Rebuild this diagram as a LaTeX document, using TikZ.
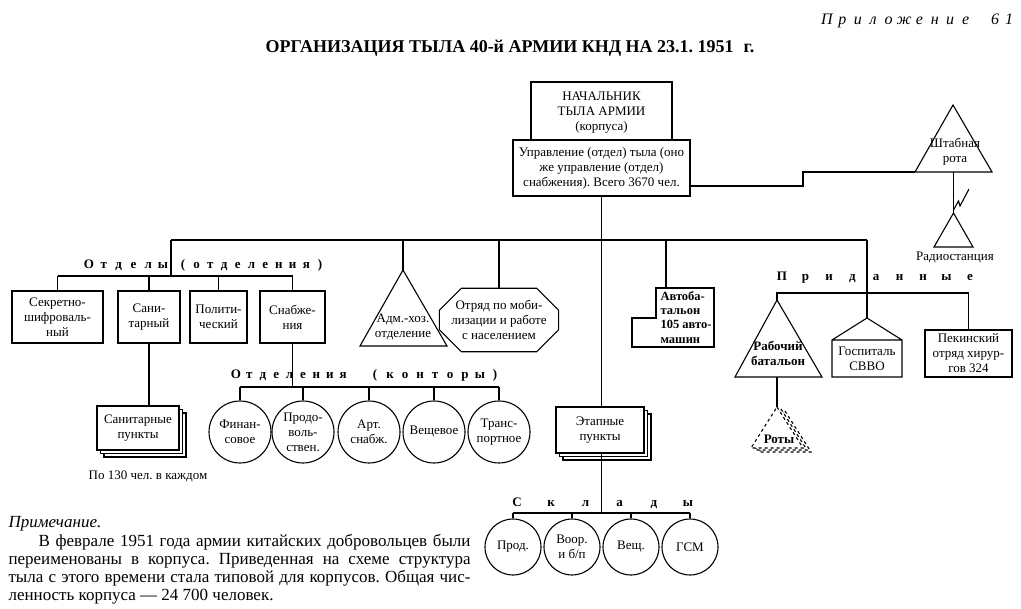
\documentclass[tikz,border=0pt]{standalone}
\usepackage{fontspec}
\setmainfont{Liberation Serif}
\usetikzlibrary{positioning,calc,shapes.misc,shadows}
\newcommand\tylfont{\fontsize{13}{15}\selectfont}
\newcommand\razfont{\fontsize{13}{15}\selectfont\bfseries}
\newcommand\primfont{\fontsize{17}{18}\selectfont}
\frenchspacing
\begin{document}
\begin{tikzpicture}[x=1pt,y=-1pt,line width=1.1pt,
item/.style={draw,fill=white,align=center,font=\tylfont,inner sep=1pt},
stack/.style={item,double copy shadow={shadow xshift=3.5pt,shadow yshift=-3.5pt}},
krug/.style={item,circle,minimum size=62pt},
sklad/.style={item,circle,minimum size=56pt},
txt/.style={align=center,font=\tylfont,inner sep=0pt},
razr/.style={font=\razfont,inner sep=0pt,anchor=base},
tri/.style={draw,fill=white,line join=miter}]
\useasboundingbox (0,0) rectangle (1021,609);

\foreach \c [count=\i from 0] in {П,р,и,л,о,ж,е,н,и,е}
  \node[font=\fontsize{16}{18}\selectfont\itshape,anchor=base] (pril\i) at (827+15.4*\i,25) {\c};
\node[font=\fontsize{16}{18}\selectfont\itshape,anchor=base] (pril61) at (1002,25) {6\hspace{6pt}1};
\node[font=\fontsize{18}{20}\selectfont\bfseries] (title) at (510,48)
  {ОРГАНИЗАЦИЯ ТЫЛА 40-й АРМИИ КНД НА 23.1. 1951\hspace{10pt}г.};

\node[item,minimum width=141pt,minimum height=62pt] (nach) at (601.5,113)
  {НАЧАЛЬНИК\\ТЫЛА АРМИИ\\(корпуса)};
\node[item,minimum width=177pt,minimum height=56pt] (upr) at (601.5,168)
  {Управление (отдел) тыла (оно\\же управление (отдел)\\снабжения). Всего 3670 чел.};

\coordinate (sh-t) at (953,105);
\coordinate (sh-l) at (915,172);
\coordinate (sh-r) at (992,172);
\draw[tri] (sh-t) -- (sh-r) -- (sh-l) -- cycle;
\node[txt] (shtab) at (955,152) {Штабная\\рота};
\draw (upr.east |- 0,186) -| (803,179) |- (sh-l);

\coordinate (rd-t) at (953.5,213);
\coordinate (rd-l) at (934,247);
\coordinate (rd-r) at (973,247);
\draw[tri] (rd-t) -- (rd-r) -- (rd-l) -- cycle;
\draw (sh-l -| rd-t) -- (rd-t);
\draw (rd-t) ++(0,-3) -- ++(5,-9) -- ++(1.5,5) -- ++(9,-17);
\node[txt] (radio) at (955,258) {Радиостанция};

\coordinate (bus-l) at (171,240);
\coordinate (bus-r) at (867,240);
\draw (bus-l) -- (bus-r);

\foreach \n/\x/\w/\t in {sekr/57.5/91pt/{Секретно-\\шифроваль-\\ный},
  sani/149/62pt/{Сани-\\тарный},poli/218.5/57pt/{Полити-\\ческий},
  snab/292.5/65pt/{Снабже-\\ния}}
{\node[item,minimum width=\w,minimum height=52pt] (\n) at (\x,317) {\t};
 \draw (\n.north) -- (\n.north |- 0,276);}
\draw (bus-l) -- (bus-l |- 0,276);
\draw (sekr.north |- 0,276) -- (snab.north |- 0,276);
\foreach \c [count=\i from 0] in {О,т,д,е,л,ы}
  \node[razr] (otl\i) at (89+14.8*\i,269) {\c};
\foreach \c [count=\i from 0] in {{(},о,т,д,е,л,е,н,и,я,{)}}
  \node[razr] (otr\i) at (183+13.7*\i,269) {\c};

\node[stack,minimum width=82pt,minimum height=44pt] (sanp) at (138,428) {Санитарные\\пункты};
\draw (sani.south) -- (sani.south |- sanp.north);
\node[txt] (sanpc) at (148,476) {По 130 чел. в каждом};

\draw (snab.south) -- (snab.south |- 0,387);
\foreach \x/\t [count=\i] in {240/{Финан-\\совое},303/{Продо-\\воль-\\ствен.},
  369/{Арт.\\снабж.},434/{Вещевое},499/{Транс-\\портное}}
{\node[krug] (otd\i) at (\x,432) {\t};
 \draw (otd\i.north) -- (otd\i.north |- 0,387);}
\draw (otd1.north |- 0,387) -- (otd5.north |- 0,387);
\foreach \c [count=\i from 0] in {О,т,д,е,л,е,н,и,я}
  \node[razr] (oth\i) at (236+13.4*\i,379) {\c};
\foreach \c [count=\i from 0] in {{(},к,о,н,т,о,р,ы,{)}}
  \node[razr] (kon\i) at (375+15*\i,379) {\c};

\coordinate (adm-t) at (403,270);
\coordinate (adm-l) at (360,346);
\coordinate (adm-r) at (447,346);
\draw[tri] (adm-t) -- (adm-r) -- (adm-l) -- cycle;
\node[txt] (adm) at (403,327) {Адм.-хоз.\\отделение};
\draw (bus-l -| adm-t) -- (adm-t);

\node[item,chamfered rectangle,chamfered rectangle sep=11pt,minimum width=104pt,
  minimum height=60pt] (otryad) at (499,320) {Отряд по моби-\\лизации и работе\\с населением};
\draw (bus-l -| otryad.north) -- (otryad.north);

\coordinate (av-v) at (666,288);
\draw (656,288) -- (714,288) -- (714,347) -- (632,347) -- (632,318) -- (656,318) -- cycle;
\node[txt,font=\fontsize{12.5}{14.2}\selectfont\bfseries,align=left,anchor=north west] (avto) at (660,291)
  {Автоба-\\тальон\\105 авто-\\машин};
\draw (bus-l -| av-v) -- (av-v);

\foreach \c [count=\i from 0] in {П,р,и,д,а,н,н,ы,е}
  \node[razr] (prid\i) at (782+23.5*\i,281) {\c};
\coordinate (rab-t) at (777,300);
\coordinate (rab-l) at (735,377);
\coordinate (rab-r) at (822,377);
\draw[tri] (rab-t) -- (rab-r) -- (rab-l) -- cycle;
\node[txt,font=\razfont] (rab) at (778,353) {Рабочий\\батальон};

\coordinate (gs-t) at (867,318);
\draw (gs-t) -- (902,340) -- (902,377) -- (832,377) -- (832,340) -- cycle (832,340) -- (902,340);
\node[txt] (gosp) at (867,359) {Госпиталь\\СВВО};
\draw (bus-r) -- (gs-t);

\node[item,minimum width=87pt,minimum height=47pt] (pek) at (968.5,353.5)
  {Пекинский\\отряд хирур-\\гов 324};
\draw (rab-t) -- (rab-t |- 0,293) -- (pek.north |- 0,293) -- (pek.north);

\coordinate (rot-t) at (777,407);
\coordinate (rot-l) at (751,448);
\coordinate (rot-r) at (803,448);
\draw (rab-t |- rab-l) -- (rot-t);
\foreach \d in {8,4,0}
  \draw[dashed,fill=white] ($(rot-t)+(\d,\d/2)$) -- ($(rot-r)+(\d,\d/2)$) -- ($(rot-l)+(\d,\d/2)$) -- cycle;
\node[txt,font=\razfont] (roty) at (779,439) {Роты};

\node[stack,minimum width=88pt,minimum height=46pt] (etap) at (600,430) {Этапные\\пункты};
\draw (upr.south) -- (upr.south |- etap.north);
\draw (upr.south |- etap.south) -- (upr.south |- 0,513);
\foreach \x/\t [count=\i] in {513/{Прод.},572/{Воор.\\и б/п},631/{Вещ.},690/{ГСМ}}
{\node[sklad] (skl\i) at (\x,547) {\t};
 \draw (skl\i.north) -- (skl\i.north |- 0,513);}
\draw (skl1.north |- 0,513) -- (skl4.north |- 0,513);
\foreach \c [count=\i from 0] in {С,к,л,а,д,ы}
  \node[razr] (skb\i) at (517+34.2*\i,507) {\c};

\node[font=\primfont\itshape,anchor=base west,inner sep=0pt] (prim) at (8,528) {Примечание.};
\node[font=\primfont,anchor=north west,inner sep=0pt,text width=462pt,align=justify] (primt) at (8,534)
  {\hspace*{30pt}В феврале 1951 года армии китайских добровольцев были\linebreak
  переименованы в корпуса. Приведенная на схеме структура\linebreak
  тыла с этого времени стала типовой для корпусов. Общая чис-\linebreak
  ленность корпуса — 24~700 человек.};
\end{tikzpicture}
\end{document}
